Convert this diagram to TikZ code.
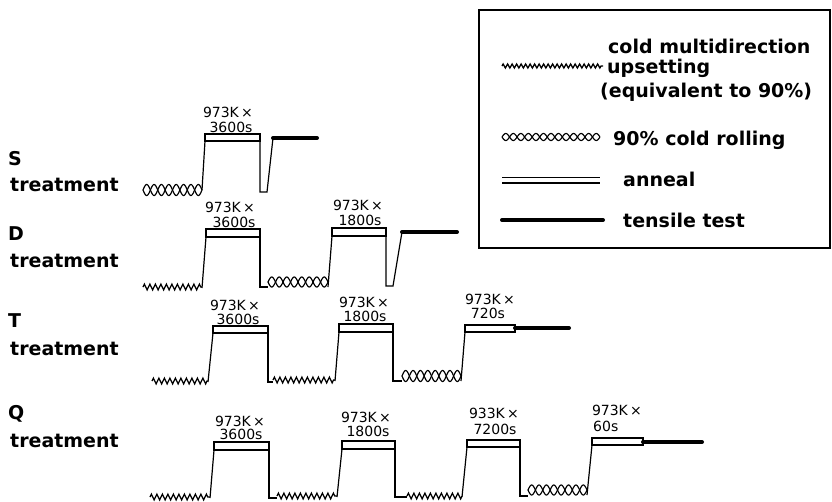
\documentclass[tikz,border=0pt]{standalone}
\usepackage{fontspec}
\setmainfont{DejaVu Sans}
\usetikzlibrary{decorations.pathmorphing}
\tikzset{
  proc/.style={line width=1.2pt, line join=miter},
  wavy/.style={line width=1.3pt, decorate, decoration={zigzag, segment length=5.5pt, amplitude=2.8pt}},
  hatchline/.style={line width=1.15pt},
  tensile/.style={line width=4pt, line cap=round},
  tlabel/.style={font=\fontsize{14}{15}\selectfont, inner sep=0pt},
  rowlabel/.style={font=\fontsize{19}{20}\selectfont\bfseries, inner sep=0pt, anchor=base west},
  legtext/.style={font=\fontsize{19}{20}\selectfont\bfseries, inner sep=0pt, anchor=base west},
}
\newcommand\xhatch[5]{%
  \draw[hatchline] plot[domain=0:1,samples=160] ({#1+(#2-#1)*\x},{#3+#4*sin(180*#5*\x)});
  \draw[hatchline] plot[domain=0:1,samples=160] ({#1+(#2-#1)*\x},{#3-#4*sin(180*#5*\x)});
}
\begin{document}
\begin{tikzpicture}[x=1pt,y=-1pt]
\useasboundingbox (0,0) rectangle (832,501);

% ---------- legend ----------
\draw[line width=1.6pt] (479,10) rectangle (830,248);
\draw[wavy, decoration={amplitude=2pt, segment length=4.5pt}] (502,66) -- (603,66);
\node[legtext] (l1) at (608,53) {cold multidirection};
\node[legtext] (l2) at (607,73) {upsetting};
\node[legtext] (l3) at (600,97) {(equivalent to 90\%)};
\xhatch{502}{600}{137}{3.5}{13}
\node[legtext] (l4) at (613,145) {90\% cold rolling};
\draw[line width=1pt] (502,177) -- (600,177);
\draw[line width=1.3pt] (502,183) -- (600,183);
\node[legtext] (l5) at (623,186) {anneal};
\draw[tensile] (502,220) -- (603,220);
\node[legtext] (l6) at (623,227) {tensile test};

% ---------- row labels ----------
\node[rowlabel] (sS) at (8,165) {S};
\node[rowlabel] (sT) at (10,191) {treatment};
\node[rowlabel] (dD) at (8,240) {D};
\node[rowlabel] (dT) at (10,267) {treatment};
\node[rowlabel] (tT) at (8,327) {T};
\node[rowlabel] (tTr) at (10,355) {treatment};
\node[rowlabel] (qQ) at (8,419) {Q};
\node[rowlabel] (qT) at (10,447) {treatment};

% ---------- S treatment ----------
\xhatch{143}{202}{190}{5.5}{8}
\draw[proc] (202,190) -- (205,141);
\draw[proc] (205,134) rectangle (260,141);
\draw[proc] (260,141) -- (260,192) -- (267,192) -- (273,138);
\draw[tensile] (273,138) -- (317,138);
\node[tlabel] (s1a) at (228,112) {973K\,×};
\node[tlabel] (s1b) at (231,127) {3600s};

% ---------- D treatment ----------
\draw[wavy] (143,287) -- (202,287);
\draw[proc] (202,288) -- (206,237);
\draw[proc] (206,229) rectangle (260,237);
\draw[proc] (260,237) -- (260,287) -- (268,287);
\xhatch{268}{328}{282}{5}{8}
\draw[proc] (328,287) -- (332,236);
\draw[proc] (332,228) rectangle (386,236);
\draw[proc] (386,236) -- (386,286) -- (393,286) -- (402,232);
\draw[tensile] (402,232) -- (457,232);
\node[tlabel] (d1a) at (230,207) {973K\,×};
\node[tlabel] (d1b) at (234,222) {3600s};
\node[tlabel] (d2a) at (358,205) {973K\,×};
\node[tlabel] (d2b) at (360,220) {1800s};

% ---------- T treatment ----------
\draw[wavy] (152,381) -- (208,381);
\draw[proc] (208,382) -- (213,333);
\draw[proc] (213,326) rectangle (268,333);
\draw[proc] (268,333) -- (268,382) -- (273,382);
\draw[wavy] (273,380) -- (335,380);
\draw[proc] (335,381) -- (339,332);
\draw[proc] (339,324) rectangle (393,332);
\draw[proc] (393,332) -- (393,381) -- (402,381);
\xhatch{402}{461}{376}{5.5}{8}
\draw[proc] (461,381) -- (465,332);
\draw[proc] (465,325) rectangle (515,332);
\draw[tensile] (515,328) -- (569,328);
\node[tlabel] (t1a) at (235,305) {973K\,×};
\node[tlabel] (t1b) at (238,319) {3600s};
\node[tlabel] (t2a) at (364,302) {973K\,×};
\node[tlabel] (t2b) at (365,316) {1800s};
\node[tlabel] (t3a) at (490,299) {973K\,×};
\node[tlabel] (t3b) at (488,313) {720s};

% ---------- Q treatment ----------
\draw[wavy] (150,497) -- (210,497);
\draw[proc] (210,498) -- (214,450);
\draw[proc] (214,442) rectangle (269,450);
\draw[proc] (269,450) -- (269,498) -- (277,498);
\draw[wavy] (277,496) -- (337,496);
\draw[proc] (337,497) -- (342,449);
\draw[proc] (342,441) rectangle (395,449);
\draw[proc] (395,449) -- (395,497) -- (407,497);
\draw[wavy] (407,496) -- (462,496);
\draw[proc] (462,497) -- (467,447);
\draw[proc] (467,440) rectangle (520,447);
\draw[proc] (520,447) -- (520,496) -- (528,496);
\xhatch{528}{587}{490}{5}{8}
\draw[proc] (587,495) -- (592,445);
\draw[proc] (592,438) rectangle (643,445);
\draw[tensile] (643,442) -- (702,442);
\node[tlabel] (q1a) at (240,421) {973K\,×};
\node[tlabel] (q1b) at (241,434) {3600s};
\node[tlabel] (q2a) at (366,417) {973K\,×};
\node[tlabel] (q2b) at (368,431) {1800s};
\node[tlabel] (q3a) at (494,413) {933K\,×};
\node[tlabel] (q3b) at (495,429) {7200s};
\node[tlabel] (q4a) at (617,410) {973K\,×};
\node[tlabel, anchor=west] (q4b) at (593,426) {60s};
\end{tikzpicture}
\end{document}
